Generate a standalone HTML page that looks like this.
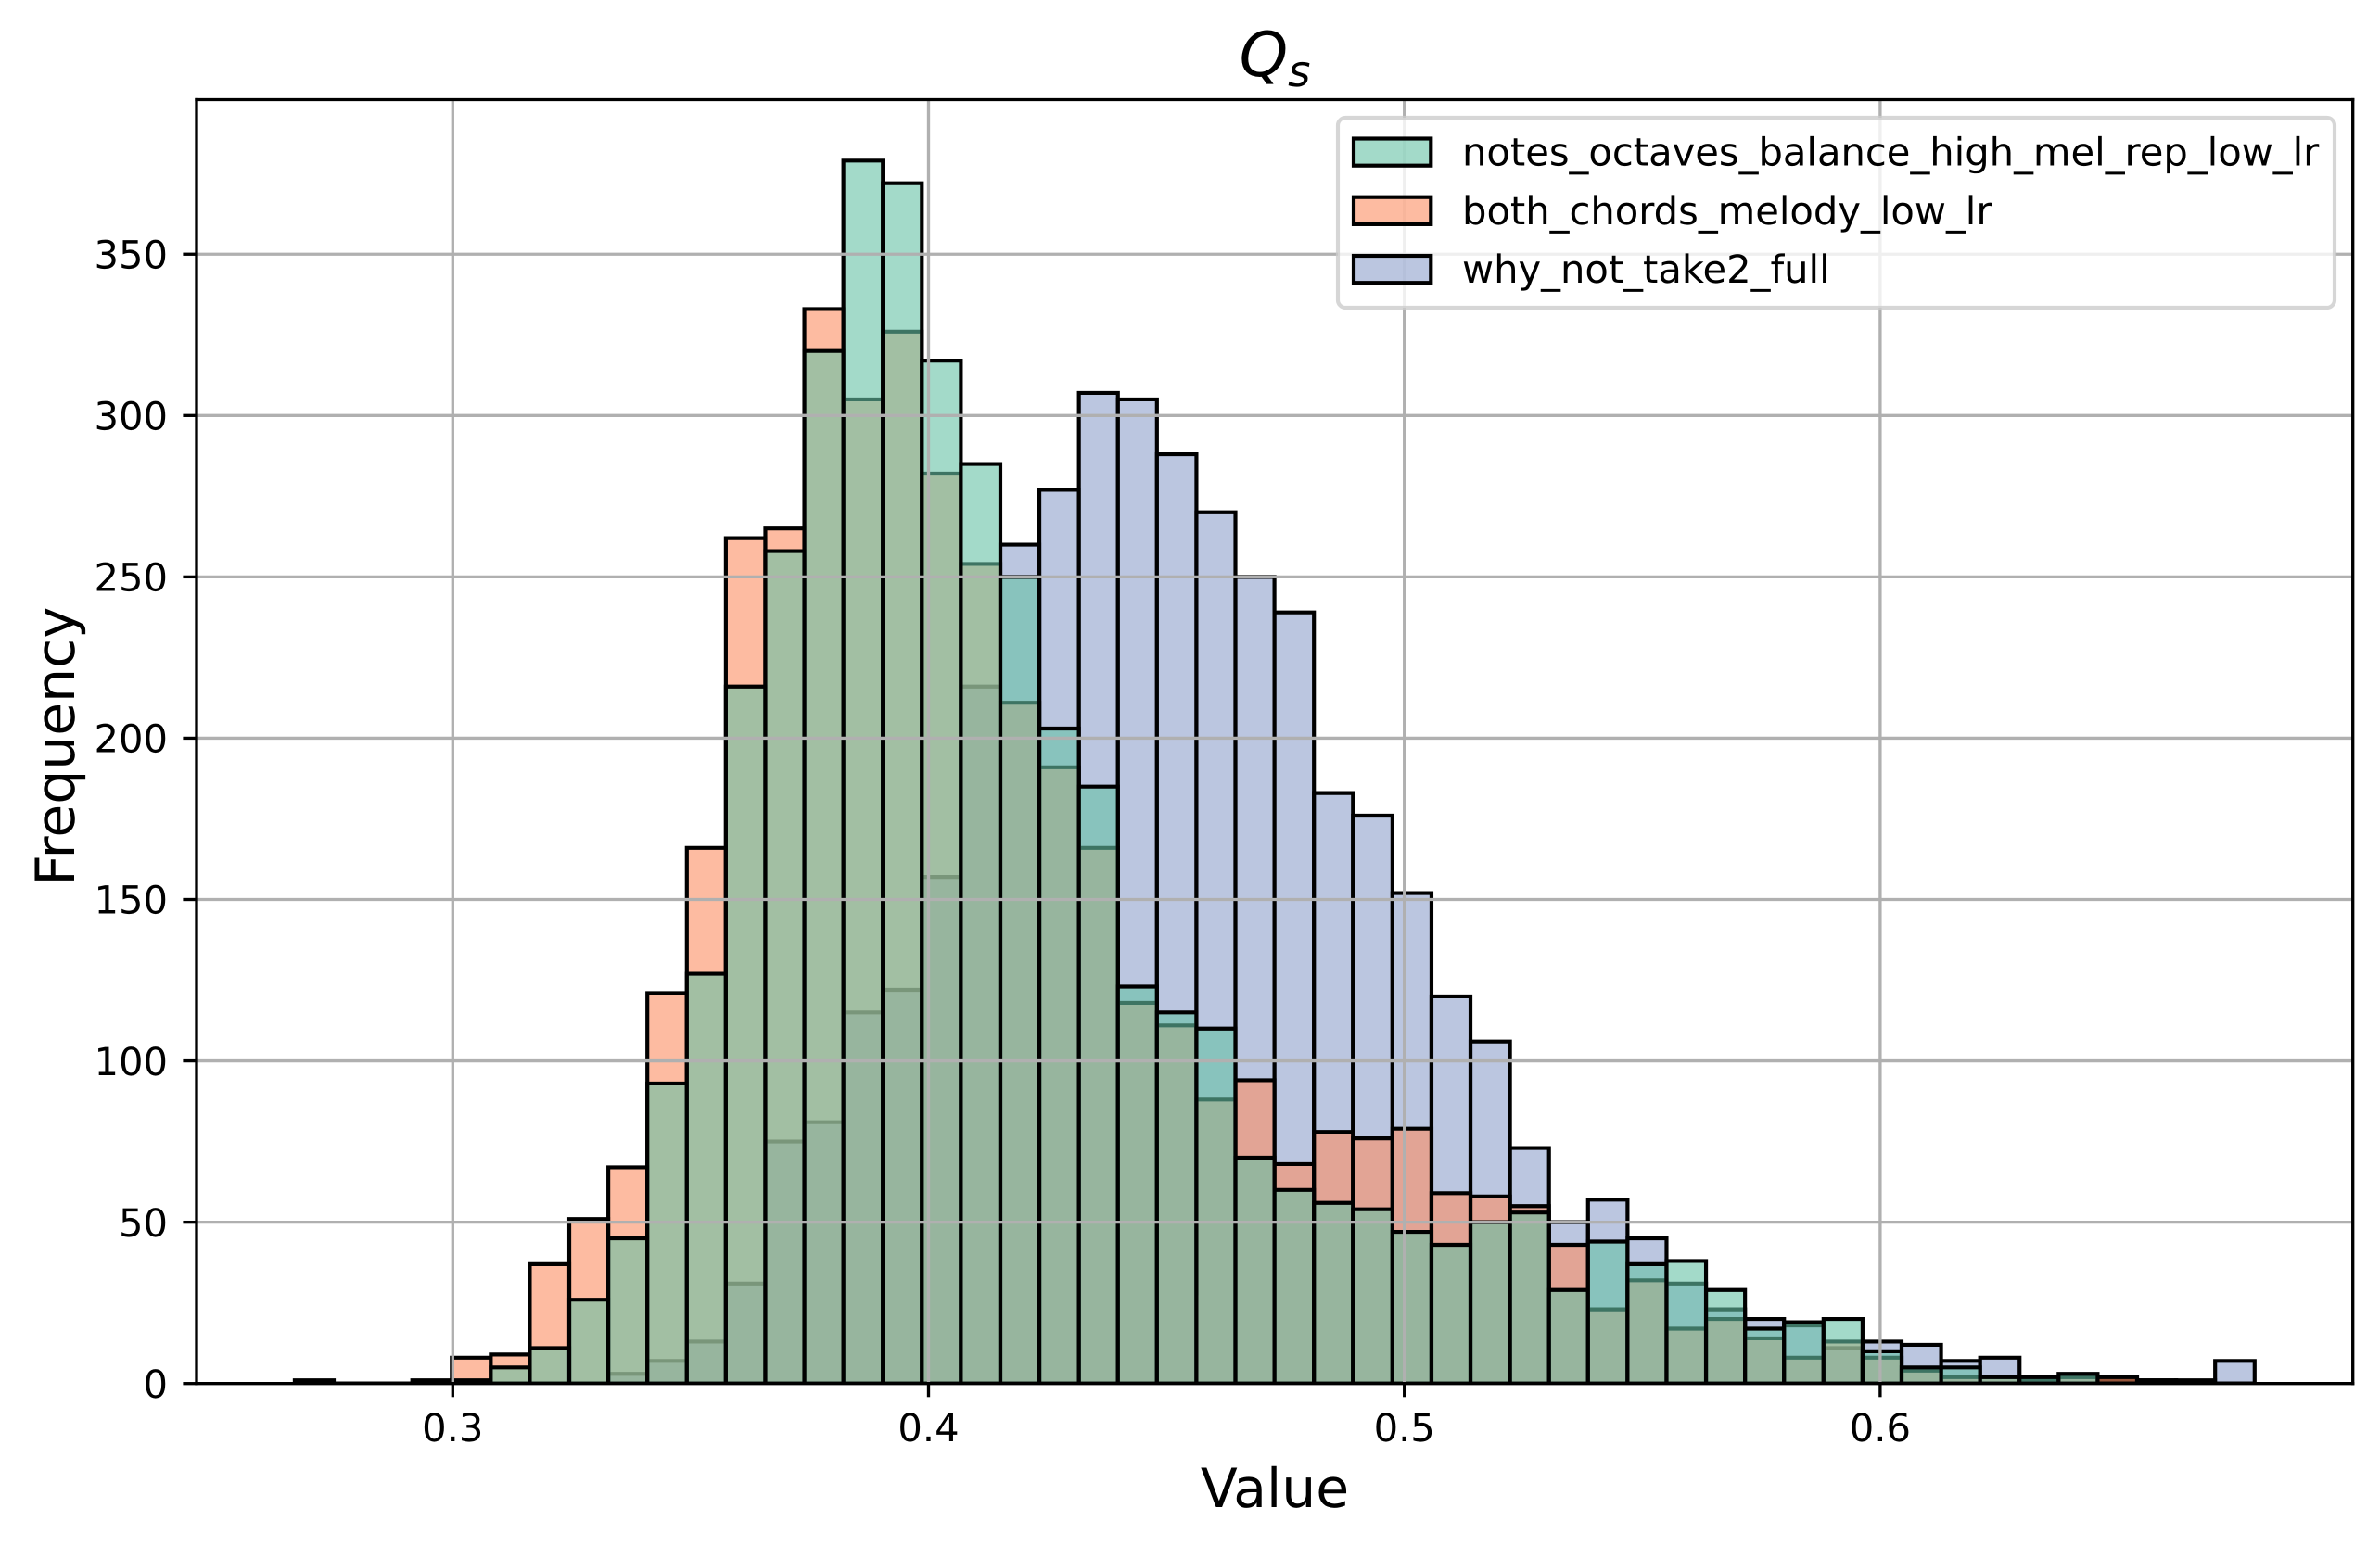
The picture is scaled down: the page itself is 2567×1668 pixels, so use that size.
<!DOCTYPE html>
<html lang="en">
<head>
<meta charset="utf-8">
<title>Q_s histogram</title>
<style>
html,body{margin:0;padding:0;background:#fff;}
svg{display:block;}
text{font-family:"DejaVu Sans","Liberation Sans",sans-serif;fill:#000;text-rendering:geometricPrecision;}
.tick-text{font-size:41.67px;}
.axis-text{font-size:58.33px;}
.legend-text{font-size:41.67px;}
</style>
</head>
<body>
<svg id="chart" xmlns="http://www.w3.org/2000/svg" width="2567" height="1668" viewBox="0 0 2567 1668">
  <rect x="0" y="0" width="2567" height="1668" fill="#ffffff"/>
  <defs>
    <clipPath id="axes-clip"><rect x="212" y="107.5" width="2325.7" height="1385.2"/></clipPath>
  </defs>
  <g id="bars" clip-path="url(#axes-clip)"></g>
  <g id="grid" clip-path="url(#axes-clip)"></g>
  <g id="ticks"></g>
  <g stroke="#000" stroke-width="3.33" fill="none" stroke-linecap="square">
    <line x1="212" y1="107.5" x2="212" y2="1492.7"/>
    <line x1="2537.7" y1="107.5" x2="2537.7" y2="1492.7"/>
    <line x1="212" y1="107.5" x2="2537.7" y2="107.5"/>
    <line x1="212" y1="1492.7" x2="2537.7" y2="1492.7"/>
  </g>
  <text x="1375" y="82" text-anchor="middle" font-size="66.67" font-style="italic">Q<tspan font-size="46.67" dy="11">s</tspan></text>
  <text class="axis-text" x="1375" y="1626" text-anchor="middle">Value</text>
  <text class="axis-text" transform="translate(80 805) rotate(-90)" x="0" y="0" text-anchor="middle">Frequency</text>
  <g>
    <rect x="1443" y="127" width="1075" height="205" rx="8.3" ry="8.3" fill="#ffffff" fill-opacity="0.8" stroke="#cccccc" stroke-opacity="0.8" stroke-width="4.17"/>
    <g>
      <rect x="1460" y="149.5" width="83.3" height="29.2" fill="#66c2a5" fill-opacity="0.6" stroke="#000" stroke-width="4.17"/>
      <text class="legend-text" x="1577" y="178.7">notes_octaves_balance_high_mel_rep_low_lr</text>
    </g>
    <g>
      <rect x="1460" y="212.7" width="83.3" height="29.2" fill="#fc8d62" fill-opacity="0.6" stroke="#000" stroke-width="4.17"/>
      <text class="legend-text" x="1577" y="241.9">both_chords_melody_low_lr</text>
    </g>
    <g>
      <rect x="1460" y="276" width="83.3" height="29.2" fill="#8da0cb" fill-opacity="0.6" stroke="#000" stroke-width="4.17"/>
      <text class="legend-text" x="1577" y="305.2">why_not_take2_full</text>
    </g>
  </g>
</svg>
<script>
const binEdges = [0.2668,0.2750,0.2833,0.2915,0.2998,0.3080,0.3162,0.3245,0.3327,0.3409,0.3492,0.3574,0.3657,0.3739,0.3821,0.3904,0.3986,0.4068,0.4151,0.4233,0.4316,0.4398,0.4480,0.4563,0.4645,0.4727,0.4810,0.4892,0.4975,0.5057,0.5139,0.5222,0.5304,0.5386,0.5469,0.5551,0.5634,0.5716,0.5798,0.5881,0.5963,0.6045,0.6128,0.6210,0.6293,0.6375,0.6457,0.6540,0.6622,0.6704,0.6787];
const whyNotTake2Full = [0,0,0,0,0,0,0,0,3,7,13,31,75,81,115,122,157,216,260,277,307,305,288,270,250,239,183,176,152,120,106,73,50,57,45,31,23,20,18,11,13,12,7,8,1,2,1,1,1,7];
const bothChordsMelodyLowLr = [1,0,0,1,8,9,37,51,67,121,166,262,265,333,305,326,282,254,211,191,166,118,111,88,94,68,78,76,79,59,58,55,43,23,32,17,20,14,8,13,8,4,2,2,1,2,2,1,0,0];
const notesOctavesBalance = [0,0,0,0,1,5,11,26,45,93,127,216,258,320,379,372,317,285,250,203,185,123,115,110,70,60,56,54,47,43,50,53,29,44,37,38,29,17,19,20,10,5,5,2,2,3,0,0,0,0];
const xTickValues = [0.3,0.4,0.5,0.6];
const xTickLabels = ["0.3","0.4","0.5","0.6"];
const yTickValues = [0,50,100,150,200,250,300,350];
const yTickLabels = ["0","50","100","150","200","250","300","350"];
const xDomain = [0.24616,0.69934];
const yDomain = [0,397.9];

const plotLeft = 212, plotRight = 2537.7, plotTop = 107.5, plotBottom = 1492.7;
const SVG_NS = 'http://www.w3.org/2000/svg';

function xScale(v){ return plotLeft + (v - xDomain[0]) / (xDomain[1] - xDomain[0]) * (plotRight - plotLeft); }
function yScale(v){ return plotBottom - (v - yDomain[0]) / (yDomain[1] - yDomain[0]) * (plotBottom - plotTop); }

function make(tag, attrs, parent){
  const el = document.createElementNS(SVG_NS, tag);
  for (const k in attrs) el.setAttribute(k, attrs[k]);
  parent.appendChild(el);
  return el;
}

const barsLayer = document.getElementById('bars');
const gridLayer = document.getElementById('grid');
const ticksLayer = document.getElementById('ticks');

function drawSeries(values, color, seriesName){
  const group = make('g', {fill: color, 'fill-opacity': 0.6, stroke: '#000', 'stroke-width': 4.17, 'stroke-linejoin': 'miter'}, barsLayer);
  
  
  values.forEach(function(value, i){
    const x0 = xScale(binEdges[i]);
    const x1 = xScale(binEdges[i + 1]);
    const y1 = yScale(value);
    const y0 = yScale(0);
    const bar = make('path', {d: 'M' + x0.toFixed(2) + ' ' + y0.toFixed(2) + 'V' + y1.toFixed(2) + 'H' + x1.toFixed(2) + 'V' + y0.toFixed(2) + 'Z'}, group);
    
    
  });
}

drawSeries(whyNotTake2Full, '#8da0cb', 'why-not-take2-full');
drawSeries(bothChordsMelodyLowLr, '#fc8d62', 'both-chords-melody-low-lr');
drawSeries(notesOctavesBalance, '#66c2a5', 'notes-octaves-balance');

xTickValues.forEach(function(value, i){
  const x = xScale(value);
  const gridLine = make('line', {x1: x, x2: x, y1: plotTop, y2: plotBottom, stroke: '#b0b0b0', 'stroke-width': 3.33}, gridLayer);
  
  
  const tick = make('line', {x1: x, x2: x, y1: plotBottom, y2: plotBottom + 14.6, stroke: '#000', 'stroke-width': 3.33}, ticksLayer);
  
  
  const label = make('text', {x: x, y: 1555, 'text-anchor': 'middle', 'class': 'tick-text'}, ticksLayer);
  
  
  label.textContent = xTickLabels[i];
});

yTickValues.forEach(function(value, i){
  const y = yScale(value);
  const gridLine = make('line', {x1: plotLeft, x2: plotRight, y1: y, y2: y, stroke: '#b0b0b0', 'stroke-width': 3.33}, gridLayer);
  
  
  const tick = make('line', {x1: plotLeft - 14.6, x2: plotLeft, y1: y, y2: y, stroke: '#000', 'stroke-width': 3.33}, ticksLayer);
  
  
  const label = make('text', {x: 181, y: y + 15.2, 'text-anchor': 'end', 'class': 'tick-text'}, ticksLayer);
  
  
  label.textContent = yTickLabels[i];
});
</script>
</body>
</html>
